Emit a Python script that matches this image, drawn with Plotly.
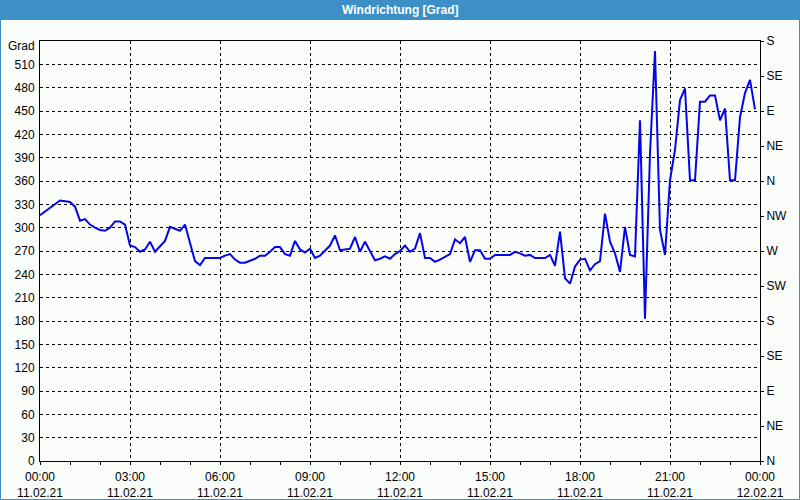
import plotly.graph_objects as go
import pandas as pd

# ---- data ----
start = "2021-02-11 00:00"
step_minutes = 10
wind_dir = [
    316, 321, 326, 331, 335, 334, 333, 327, 309, 311, 304, 300, 297, 296, 300, 308,
    308, 304, 277, 275, 269, 272, 282, 269, 276, 283, 301, 298, 296, 304, 280, 257,
    252, 261, 261, 261, 261, 264, 266, 259, 255, 255, 257, 260, 264, 264, 269, 275,
    275, 266, 264, 283, 272, 268, 273, 261, 264, 271, 277, 290, 271, 272, 273, 288,
    269, 282, 269, 258, 260, 263, 260, 266, 270, 277, 269, 273, 293, 261, 261, 256,
    259, 263, 266, 285, 280, 288, 256, 271, 271, 260, 260, 265, 265, 265, 265, 269,
    267, 264, 265, 261, 261, 261, 265, 251, 295, 235, 228, 250, 259, 260, 245, 253,
    257, 318, 282, 267, 243, 301, 265, 263, 438, 183, 395, 527, 297, 265, 361, 400,
    464, 479, 361, 361, 462, 462, 470, 470, 438, 453, 361, 361, 442, 473, 490, 452,
]
times = pd.date_range(start, periods=len(wind_dir), freq=f"{step_minutes}min")

x_tick_vals = pd.date_range("2021-02-11 00:00", "2021-02-12 00:00", freq="3h")
x_tick_text = [t.strftime("%H:%M") + "<br>" + t.strftime("%d.%m.%y") for t in x_tick_vals]
y_left_ticks = list(range(0, 511, 30))
y_right_vals = list(range(0, 541, 45))
y_right_text = ["N", "NE", "E", "SE", "S", "SW", "W", "NW", "N", "NE", "E", "SE", "S"]

# ---- figure ----
W, H = 800, 500
L, R, T, B = 40, 40, 41, 39
pw, ph = W - L - R, H - T - B

def px_x(p):
    return (p - L) / pw

def px_y(p):
    return (H - B - p) / ph

font = dict(family="Liberation Sans, Arial, sans-serif", size=12, color="#000000")
bg = "#fbfdfb"
blue_bar = "#3d8fc5"
dash = "3px,3px"

fig = go.Figure()
fig.add_trace(go.Scatter(x=times, y=wind_dir, mode="lines",
                         line=dict(color="#0505e8", width=2), showlegend=False))
# invisible trace to activate right axis
fig.add_trace(go.Scatter(x=[times[0]], y=[0], yaxis="y2", mode="markers",
                         marker=dict(opacity=0), showlegend=False, hoverinfo="skip"))

fig.update_layout(
    width=W, height=H,
    margin=dict(l=L, r=R, t=T, b=B, autoexpand=False),
    paper_bgcolor=bg, plot_bgcolor=bg,
    font=font,
    xaxis=dict(
        type="date", automargin=False,
        range=["2021-02-11 00:00", "2021-02-12 00:00"],
        tickvals=list(x_tick_vals), ticktext=x_tick_text,
        ticks="", showline=True, linecolor="#000", linewidth=1, mirror=True,
        showgrid=True, gridcolor="#000", gridwidth=1, griddash=dash,
        zeroline=False, tickfont=font, tickangle=0, ticklabelstandoff=5,
        minor=dict(dtick=3600000, ticks="outside", ticklen=3, tickcolor="#000", showgrid=False),
    ),
    yaxis=dict(
        range=[0, 540], tickvals=y_left_ticks, ticks="", automargin=False,
        showline=True, linecolor="#000", linewidth=1,
        showgrid=True, gridcolor="#000", gridwidth=1, griddash=dash,
        zeroline=False, tickfont=font, ticklabelstandoff=2,
    ),
    yaxis2=dict(
        range=[0, 540], overlaying="y", side="right", automargin=False,
        tickvals=y_right_vals, ticktext=y_right_text,
        ticks="outside", ticklen=3, tickcolor="#000",
        showline=True, linecolor="#000", linewidth=1,
        showgrid=False, zeroline=False, tickfont=font,
    ),
    shapes=[
        dict(type="rect", xref="paper", yref="paper",
             x0=px_x(0), x1=px_x(W), y0=px_y(20), y1=px_y(0),
             fillcolor=blue_bar, line=dict(width=0), layer="below"),
        dict(type="rect", xref="paper", yref="paper",
             x0=px_x(0.5), x1=px_x(W - 0.5), y0=px_y(H - 0.5), y1=px_y(0.5),
             line=dict(color=blue_bar, width=1), fillcolor="rgba(0,0,0,0)"),
    ],
    annotations=[
        dict(text="<b>Windrichtung [Grad]</b>", xref="paper", yref="paper",
             x=px_x(400), y=px_y(10), showarrow=False,
             font=dict(family="Liberation Sans, Arial, sans-serif", size=12, color="#ffffff"),
             xanchor="center", yanchor="middle"),
        dict(text="Grad", xref="paper", yref="paper",
             x=px_x(37), y=px_y(46), showarrow=False, font=font,
             xanchor="right", yanchor="middle"),
    ],
)

fig.write_html("out.html")
